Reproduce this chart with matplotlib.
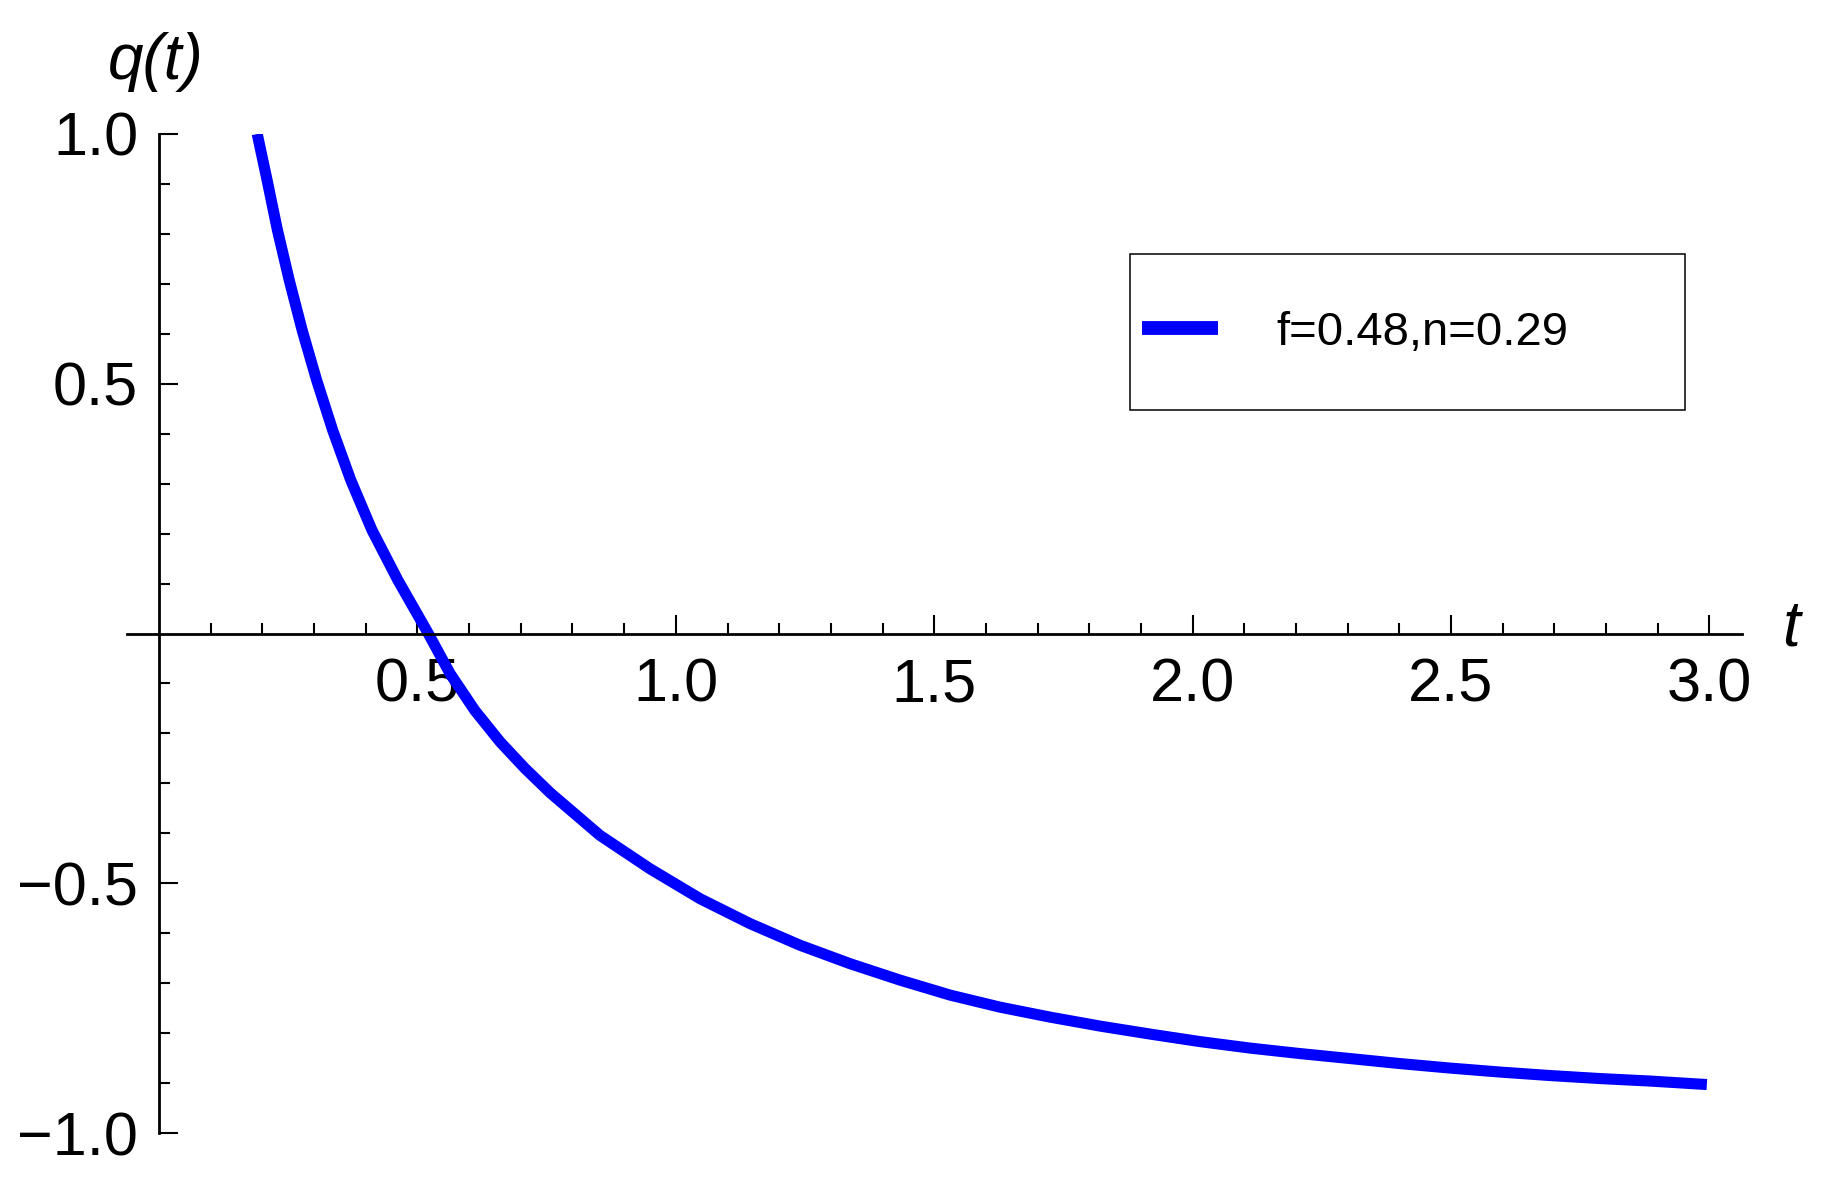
# Deceleration parameter q(t) curve, Mathematica-like axes through the origin
import numpy as np
import matplotlib.pyplot as plt
from matplotlib.patches import Rectangle

plt.rcParams['font.family'] = ['Liberation Sans', 'DejaVu Sans']
plt.rcParams['lines.solid_capstyle'] = 'butt'

# values
t_vals = [0.190, 0.209, 0.229, 0.252, 0.277, 0.305, 0.336, 0.371, 0.412, 0.462,
          0.521, 0.563, 0.611, 0.660, 0.708, 0.757, 0.853, 0.950, 1.047, 1.144,
          1.240, 1.337, 1.434, 1.531, 1.627, 1.724, 1.821, 1.918, 2.014, 2.111,
          2.208, 2.305, 2.401, 2.498, 2.595, 2.692, 2.788, 2.885, 2.995]
q_vals = [1.000, 0.908, 0.808, 0.707, 0.607, 0.507, 0.407, 0.307, 0.207, 0.107,
          0.000, -0.080, -0.154, -0.217, -0.270, -0.319, -0.404, -0.471, -0.531, -0.581,
          -0.624, -0.661, -0.694, -0.724, -0.748, -0.768, -0.786, -0.802, -0.817, -0.830,
          -0.841, -0.851, -0.861, -0.870, -0.878, -0.885, -0.891, -0.896, -0.903]
series_label = 'f=0.48,n=0.29'

x_major = [0.5, 1.0, 1.5, 2.0, 2.5, 3.0]
x_major_labels = ['0.5', '1.0', '1.5', '2.0', '2.5', '3.0']
y_major = [-1.0, -0.5, 0.5, 1.0]
y_major_labels = ['\u22121.0', '\u22120.5', '0.5', '1.0']

W, H = 1825, 1177
fig = plt.figure(figsize=(W / 100, H / 100), dpi=100)
ax = fig.add_axes([127 / W, 1 - 1133 / H, (1742 - 127) / W, (1133 - 134) / H])

ax.plot(t_vals, q_vals, color=(0, 0, 1), lw=8, label=series_label,
        solid_joinstyle='round')

ax.set_xlim(-0.062, 3.063)
ax.set_ylim(-1.0, 1.0)

# axes through origin
for side in ['top', 'right']:
    ax.spines[side].set_visible(False)
ax.spines['left'].set_position(('data', 0))
ax.spines['bottom'].set_position(('data', 0))
for side in ['left', 'bottom']:
    ax.spines[side].set_linewidth(2.0)

ax.set_xticks(x_major, labels=x_major_labels)
ax.set_yticks(y_major, labels=y_major_labels)
x_minor = [round(0.1 * i, 1) for i in range(1, 31)]
x_minor = [v for v in x_minor if v not in x_major]
y_minor = [round(0.1 * i, 1) for i in range(-9, 10)]
y_minor = [v for v in y_minor if v not in (0.0, -0.5, 0.5)]
ax.set_xticks(x_minor, minor=True)
ax.set_yticks(y_minor, minor=True)

ax.tick_params(which='both', direction='in', width=1.5, labelsize=44)
ax.tick_params(which='major', length=13.5)
ax.tick_params(which='minor', length=8)
ax.tick_params(axis='x', which='major', pad=17)
ax.tick_params(axis='y', which='major', pad=15)

# axis labels at the ends of the axes
ax.text(3.158, 0.01, 't', style='italic', fontsize=46, ha='center', va='center', clip_on=False)
ax.text(-0.006, 1.144, 'q(t)', style='italic', fontsize=46, ha='center', va='center', clip_on=False)

# legend with a wide box like the reference
leg = ax.legend(loc='center left', bbox_to_anchor=(1141.8 / W, 1 - 333 / H),
                bbox_transform=fig.transFigure, frameon=False, fontsize=34,
                handlelength=1.61, handletextpad=1.25, borderpad=0, borderaxespad=0)
for line in leg.get_lines():
    line.set_linewidth(10)
fig.add_artist(Rectangle((1129.6 / W, 1 - 410 / H), 555 / W, 156 / H,
                         transform=fig.transFigure, fill=False, edgecolor='black', lw=1.1))

fig.savefig('out.png', dpi=100)
